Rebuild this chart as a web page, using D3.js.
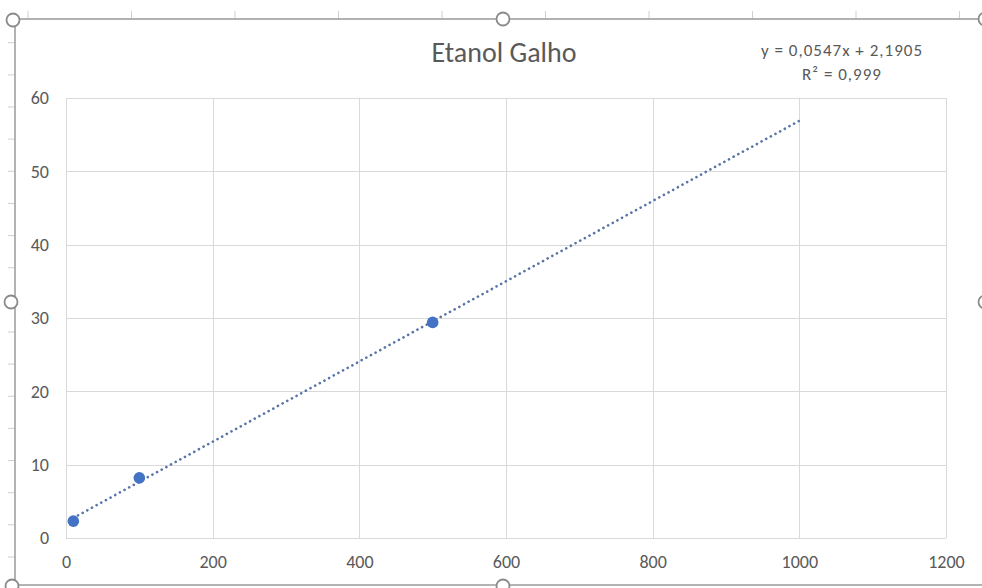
<!DOCTYPE html>
<html>
<head>
<meta charset="utf-8">
<script src="https://cdn.jsdelivr.net/npm/d3@7/dist/d3.min.js"></script>
<style>
  html, body { margin: 0; padding: 0; background: #fff; }
  svg { display: block; font-family: Carlito, Lato, "Open Sans", sans-serif; }
</style>
</head>
<body>
<svg id="chart" width="982" height="588"></svg>
<script>
// ---- data ----
const title = "Etanol Galho";
const xValues = [10, 100, 500];
const yValues = [2.3, 8.2, 29.4];
const trendSlope = 0.0547;
const trendIntercept = 2.1905;
const trendRange = [10, 1000];
const equationLabel = "y = 0,0547x + 2,1905";
const r2Label = "R² = 0,999";
const xTicks = [0, 200, 400, 600, 800, 1000, 1200];
const yTicks = [0, 10, 20, 30, 40, 50, 60];

// ---- layout ----
const svg = d3.select("#chart");
const W = 982, H = 588;
const plot = { left: 66, right: 946, top: 98, bottom: 538 };
const textColor = "#595959";
const gridColor = "#d9d9d9";

svg.append("rect").attr("width", W).attr("height", H).attr("fill", "#fff");

const x = d3.scaleLinear().domain([0, 1200]).range([plot.left, plot.right]);
const y = d3.scaleLinear().domain([0, 60]).range([plot.bottom, plot.top]);

// ruler-like decoration ticks outside selection frame
const deco = svg.append("g").attr("stroke", "#cfcfcf").attr("stroke-width", 1);
for (let k = 0; k < 10; k++) {
  const tx = 28 + 103.5 * k;
  deco.append("line").attr("x1", tx).attr("x2", tx).attr("y1", 11).attr("y2", 19);
}
for (let k = -2; k < 15; k++) {
  const ty = 107 + 32.14 * k;
  if (ty < 30 || ty > 575) continue;
  deco.append("line").attr("x1", 8).attr("x2", 15).attr("y1", ty).attr("y2", ty);
}

// gridlines
const grid = svg.append("g").attr("stroke", gridColor).attr("stroke-width", 1).attr("shape-rendering", "crispEdges");
grid.selectAll(".gx").data(xTicks).join("line")
  .attr("x1", d => Math.round(x(d)) + 0.5).attr("x2", d => Math.round(x(d)) + 0.5)
  .attr("y1", plot.top).attr("y2", plot.bottom);
grid.append("line").attr("x1", plot.right).attr("x2", plot.right).attr("y1", plot.top).attr("y2", plot.bottom);
grid.selectAll(".gy").data(yTicks).join("line")
  .attr("x1", plot.left).attr("x2", plot.right)
  .attr("y1", d => Math.round(y(d)) + 0.5).attr("y2", d => Math.round(y(d)) + 0.5);

// axes (labels only)
const xAxis = d3.axisBottom(x).tickValues(xTicks).tickSize(0).tickPadding(0).tickFormat(d3.format("d"));
const gx = svg.append("g").attr("transform", `translate(0,${plot.bottom + 30})`).call(xAxis);
gx.select(".domain").remove();
gx.selectAll("text").attr("fill", textColor).attr("font-size", 18).attr("font-family", "Carlito, Lato, sans-serif").attr("dy", "0");

const yAxis = d3.axisLeft(y).tickValues(yTicks).tickSize(0).tickPadding(0).tickFormat(d3.format("d"));
const gy = svg.append("g").attr("transform", `translate(${plot.left - 17},0)`).call(yAxis);
gy.select(".domain").remove();
gy.selectAll("text").attr("fill", textColor).attr("font-size", 18).attr("font-family", "Carlito, Lato, sans-serif");

// trendline
const trendPts = trendRange.map(v => [v, trendSlope * v + trendIntercept]);
svg.append("path")
  .attr("d", d3.line().x(d => x(d[0])).y(d => y(d[1]))(trendPts))
  .attr("fill", "none")
  .attr("stroke", "#5874a6")
  .attr("stroke-width", 2.6)
  .attr("stroke-linecap", "round")
  .attr("stroke-dasharray", "0.1 5.2");

// points
svg.append("g").selectAll("circle").data(xValues.map((v, i) => [v, yValues[i]])).join("circle")
  .attr("cx", d => x(d[0])).attr("cy", d => y(d[1])).attr("r", 5.8)
  .attr("fill", "#4472c4");

// title
svg.append("text").attr("x", 504).attr("y", 62).attr("text-anchor", "middle")
  .attr("fill", textColor).attr("font-size", 28).text(title);

// equation
svg.append("text").attr("x", 842).attr("y", 56).attr("text-anchor", "middle")
  .attr("fill", textColor).attr("font-size", 17).attr("letter-spacing", 1.0).text(equationLabel);
svg.append("text").attr("x", 842).attr("y", 80).attr("text-anchor", "middle")
  .attr("fill", textColor).attr("font-size", 17).attr("letter-spacing", 1.0).text(r2Label);

// selection frame
const frame = svg.append("g").attr("fill", "none").attr("stroke", "#a0a0a0").attr("stroke-width", 1.6);
frame.append("rect").attr("x", 15).attr("y", 19).attr("width", 969).attr("height", 566);
const handles = [[13, 20], [503, 19], [985, 19], [11, 302], [985, 302], [12, 586], [503, 586]];
svg.append("g").selectAll("circle").data(handles).join("circle")
  .attr("cx", d => d[0]).attr("cy", d => d[1]).attr("r", 6.5)
  .attr("fill", "#fff").attr("stroke", "#8a8a8a").attr("stroke-width", 1.8);
</script>
</body>
</html>
